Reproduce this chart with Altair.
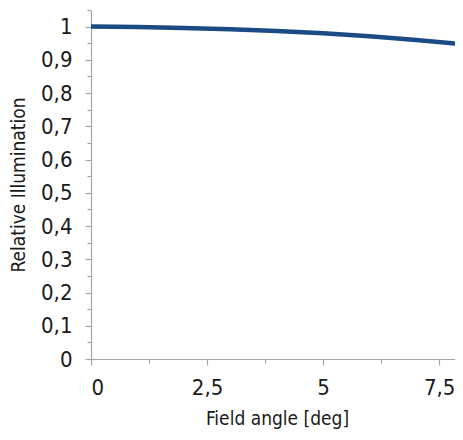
import altair as alt
import pandas as pd

angle = [0, 1, 2, 3, 4, 5, 6, 7, 8]
illum = [1.0, 0.999, 0.996, 0.992, 0.987, 0.980, 0.971, 0.960, 0.947]

x_ticks = [0, 1.25, 2.5, 3.75, 5, 6.25, 7.5]
y_ticks = [0, 0.05, 0.1, 0.15, 0.2, 0.25, 0.3, 0.35, 0.4, 0.45, 0.5,
           0.55, 0.6, 0.65, 0.7, 0.75, 0.8, 0.85, 0.9, 0.95, 1.0, 1.05]

df = pd.DataFrame({"angle": angle, "illum": illum})

FONT = "'Liberation Sans Narrow', 'DejaVu Sans Condensed', sans-serif"
minor_test = "round(datum.value*100) % 10 != 0"
x_minor_test = "round(datum.value*100) % 250 != 0"

chart = alt.Chart(df).mark_line(
    color="#1b4b84", strokeWidth=4.5, interpolate="monotone", strokeCap="round", clip=True
).encode(
    x=alt.X("angle:Q", scale=alt.Scale(domain=[0, 7.84], nice=False, zero=False),
            axis=alt.Axis(values=x_ticks, title="Field angle [deg]",
                          labelExpr="round(datum.value*100) % 250 != 0 ? '' : replace(toString(datum.value), '.', ',')",
                          tickSize={"condition": {"test": x_minor_test, "value": 4}, "value": 6},
                          labelPadding=12, titlePadding=11, titleX=186)),
    y=alt.Y("illum:Q", scale=alt.Scale(domain=[0, 1.05], nice=False),
            axis=alt.Axis(values=y_ticks, title="Relative Illumination",
                          labelExpr="round(datum.value*100) % 10 != 0 ? '' : replace(toString(datum.value), '.', ',')",
                          tickSize={"condition": {"test": minor_test, "value": 4}, "value": 6},
                          labelPadding=13, titlePadding=12)),
).properties(
    width=364, height=349,
    autosize=alt.AutoSizeParams(type="none"),
    padding={"left": 83, "top": 2, "right": 0, "bottom": 71},
).configure_axis(
    grid=False,
    domainColor="#a6a6a6", tickColor="#a6a6a6", domainWidth=1.2, tickWidth=1.2,
    labelFont=FONT, labelFontSize=22, labelColor="#1a1a1a",
    titleFont=FONT, titleFontSize=19, titleFontWeight="normal", titleColor="#1a1a1a",
).configure_view(stroke=None)

chart.save("out.html", embed_options={"renderer": "svg", "actions": False})
